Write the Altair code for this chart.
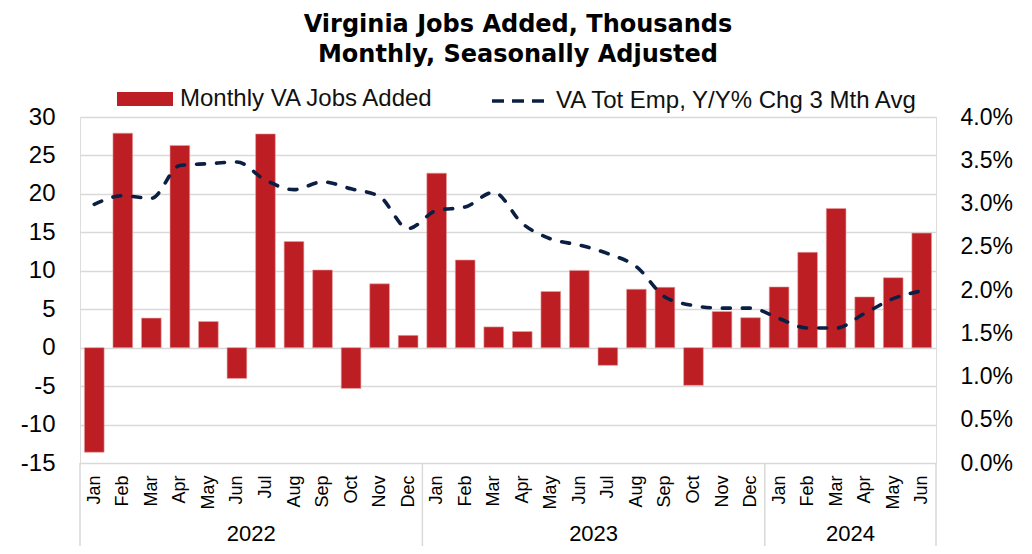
import json
import altair as alt
import pandas as pd

# ---------------- data ----------------
months = ["Jan", "Feb", "Mar", "Apr", "May", "Jun",
          "Jul", "Aug", "Sep", "Oct", "Nov", "Dec"]
years = ["2022", "2023", "2024"]
months_per_year = [12, 12, 6]

# Monthly VA jobs added (thousands), Jan 2022 .. Jun 2024
jobs_added = [-13.6, 27.9, 3.85, 26.3, 3.4, -4.0, 27.8, 13.8, 10.1, -5.3, 8.3, 1.6,
              22.7, 11.4, 2.7, 2.1, 7.3, 10.05, -2.3, 7.6, 7.85, -4.9, 4.7, 3.9,
              7.9, 12.4, 18.1, 6.6, 9.1, 14.9]

# VA total employment, Y/Y % change, 3-month average (percent)
emp_yoy_pct = [2.99, 3.09, 3.06, 3.44, 3.46, 3.48, 3.27, 3.16, 3.25, 3.17, 3.08, 2.71,
               2.92, 2.96, 3.13, 2.77, 2.59, 2.52, 2.42, 2.27, 1.92, 1.82, 1.79, 1.79,
               1.67, 1.56, 1.56, 1.73, 1.90, 1.99]

bar_name = "Monthly VA Jobs Added"
line_name = "VA Tot Emp, Y/Y% Chg 3 Mth Avg"

left_ticks = [-15, -10, -5, 0, 5, 10, 15, 20, 25, 30]
right_ticks = [0.0, 0.005, 0.01, 0.015, 0.02, 0.025, 0.03, 0.035, 0.04]

# ---------------- tables ----------------
n = len(jobs_added)
idx = list(range(n))
df = pd.DataFrame({
    "i": idx,
    "jobs": jobs_added,
    "yoy": [v / 100.0 for v in emp_yoy_pct],
    "bar_series": [bar_name] * n,
    "line_series": [line_name] * n,
})

bounds = [-0.5]
mids = []
start = 0
for c in months_per_year:
    mids.append(start + (c - 1) / 2.0)
    start += c
    bounds.append(start - 0.5)
years_df = pd.DataFrame({"year": years, "mid": mids})
bounds_df = pd.DataFrame({"b": bounds})

# ---------------- style ----------------
RED = "#BC1E24"
NAVY = "#0B1F44"
GRID = "#D9D9D9"
FONT = "Liberation Sans"
W, H = 856, 346

x_scale = alt.Scale(domain=[-0.5, n - 0.5], nice=False, zero=False)
x_axis = alt.Axis(values=idx, labelExpr=json.dumps(months) + "[datum.value % 12]",
                  labelAngle=270, labelFontSize=18, labelFont=FONT, labelColor="#000000",
                  labelPadding=12, grid=False, ticks=False, domain=False, title=None)

bars = alt.Chart(df).transform_calculate(
    x0="datum.i - 0.345", x1="datum.i + 0.345"
).mark_bar(stroke="#E8A0A0", strokeWidth=0.6).encode(
    x=alt.X("x0:Q", scale=x_scale, axis=x_axis),
    x2="x1:Q",
    y=alt.Y("jobs:Q", scale=alt.Scale(domain=[-15, 30], nice=False, zero=False),
            axis=alt.Axis(values=left_ticks, title=None, orient="left",
                          labelExpr="'' + datum.value",
                          labelFontSize=24, labelFont=FONT, labelColor="#000000",
                          labelPadding=25, ticks=False, domain=False,
                          grid=True, gridColor=GRID, gridWidth=1.5)),
    y2=alt.datum(0),
    fill=alt.Fill("bar_series:N",
                  scale=alt.Scale(domain=[bar_name], range=[RED]),
                  legend=alt.Legend(title=None, orient="none", legendX=37, legendY=-46,
                                    symbolType="M-1,-0.25L1,-0.25L1,0.25L-1,0.25Z",
                                    symbolSize=3136, symbolStrokeWidth=0,
                                    labelFontSize=24, labelFont=FONT, labelColor="#111111",
                                    labelOffset=7, labelLimit=500)),
)

line = alt.Chart(df).mark_line(strokeWidth=3.6, strokeDash=[8, 12], strokeCap="round",
                               interpolate="monotone").encode(
    x=alt.X("i:Q", scale=x_scale, axis=x_axis),
    y=alt.Y("yoy:Q", scale=alt.Scale(domain=[0, 0.04], nice=False, zero=False),
            axis=alt.Axis(values=right_ticks, format=".1%", title=None, orient="right",
                          labelFontSize=23, labelFont=FONT, labelColor="#000000",
                          labelPadding=24, ticks=False, domain=False, grid=False)),
    stroke=alt.Stroke("line_series:N",
                      scale=alt.Scale(domain=[line_name], range=[NAVY]),
                      legend=alt.Legend(title=None, orient="none", legendX=410, legendY=-47,
                                        symbolType="stroke", symbolSize=3364,
                                        symbolStrokeWidth=3.5, symbolDash=[12, 8],
                                        labelFontSize=24, labelFont=FONT,
                                        labelColor="#111111", labelOffset=4,
                                        labelLimit=500)),
)

seps = alt.Chart(bounds_df).mark_rule(color=GRID, strokeWidth=1.5).encode(
    x=alt.X("b:Q", scale=x_scale, axis=x_axis),
    y=alt.value(H),
    y2=alt.value(H + 95),
)

year_text = alt.Chart(years_df).mark_text(fontSize=22, font=FONT, color="#000000",
                                          baseline="middle").encode(
    x=alt.X("mid:Q", scale=x_scale, axis=x_axis),
    y=alt.value(H + 71),
    text="year:N",
)

chart = alt.layer(bars, line, seps, year_text).resolve_scale(
    y="independent"
).properties(
    width=W, height=H,
    title=alt.TitleParams(
        text=["Virginia Jobs Added, Thousands", "Monthly, Seasonally Adjusted"],
        font="DejaVu Sans", fontSize=24, fontWeight="bold", color="#000000",
        anchor="middle", frame="group", dx=10, offset=3, lineHeight=30),
    autosize=alt.AutoSizeParams(type="none"),
    padding={"left": 72, "top": 109, "right": 86, "bottom": 83},
).configure_view(stroke=None).configure(background="white")

chart.save("out.html", embed_options={"renderer": "svg", "actions": False})
